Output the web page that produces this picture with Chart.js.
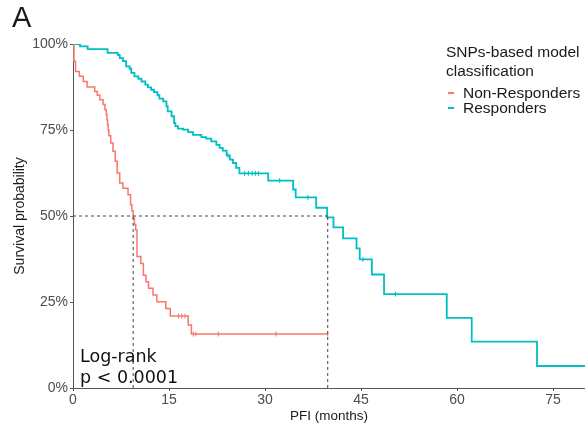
<!DOCTYPE html>
<html>
<head>
<meta charset="utf-8">
<script src="https://cdn.jsdelivr.net/npm/chart.js@4.4.1/dist/chart.umd.min.js"></script>
<style>
  html, body { margin: 0; padding: 0; background: #fff; }
  #wrap { position: relative; width: 585px; height: 428px; overflow: hidden; font-family: "Liberation Sans", Arial, sans-serif; }
  #c { position: absolute; left: 0; top: 0; }
  .txt { position: absolute; white-space: nowrap; color: #1a1a1a; }
  #panel { left: 12px; top: 1px; font-size: 29px; }
  #lgtitle { left: 446px; top: 42px; font-size: 15.5px; line-height: 19px; }
  .lgitem { left: 446px; font-size: 15.5px; line-height: 15px; }
  .dash { display: inline-block; width: 6px; height: 2px; vertical-align: middle; margin: 0 9px 0 2px; position: relative; top: -1px; }
  #logrank { left: 80px; top: 346px; font-family: "DejaVu Sans", sans-serif; font-size: 17.5px; line-height: 21px; color: #111; }
</style>
</head>
<body>
<div id="wrap">
  <canvas id="c" width="590" height="428"></canvas>
  <div class="txt" id="panel">A</div>
  <div class="txt" id="lgtitle">SNPs-based model<br>classification</div>
  <div class="txt lgitem" id="lg1" style="top:85px"><span class="dash" style="background:#F8766D"></span>Non-Responders</div>
  <div class="txt lgitem" id="lg2" style="top:100px"><span class="dash" style="background:#00BFC4"></span>Responders</div>
  <div class="txt" id="logrank">Log-rank<br>p &lt; 0.0001</div>
</div>
<script>
// ---- data (months, survival %) ----
const seriesNames = ["Non-Responders", "Responders"];
const nonRespTime = [0, 0.15, 0.4, 1.0, 1.6, 2.2, 3.4, 3.8, 4.2, 4.7, 5.0, 5.2, 5.3, 5.4, 5.5, 5.6, 5.9, 6.25, 6.6, 6.9, 7.3, 7.8, 8.6, 9.0, 9.2, 9.4, 9.6, 9.8, 10.0, 10.6, 11.0, 11.4, 11.8, 12.5, 13.1, 14.5, 15.2, 18.0, 18.5, 39.8];
const nonRespSurv = [100, 95, 92, 90.6, 89.1, 87.5, 86.2, 85.1, 83.8, 82.4, 80.9, 79.4, 77.9, 76.5, 75.0, 73.3, 71.2, 68.8, 65.9, 62.5, 59.6, 58.1, 56.2, 53.3, 51.5, 49.4, 47.5, 45.9, 38.2, 36.2, 32.8, 30.9, 29.0, 27.0, 25.1, 23.1, 20.9, 18.3, 15.7, 15.7];
const respTime = [0, 1.1, 2.3, 5.4, 7.0, 7.3, 7.8, 8.3, 8.85, 9.1, 9.6, 10.2, 10.7, 11.3, 11.7, 12.2, 12.65, 13.2, 13.5, 14.1, 14.6, 14.8, 15.4, 15.8, 16.0, 16.4, 17.2, 18.0, 18.75, 20.05, 20.8, 21.6, 22.4, 22.9, 23.4, 24.0, 24.5, 25.0, 25.5, 26.0, 30.5, 34.4, 34.8, 38.0, 39.7, 40.7, 42.2, 44.3, 44.8, 46.7, 48.6, 58.4, 62.3, 72.5, 80];
const respSurv = [100, 99.3, 98.5, 97.4, 96.8, 95.9, 95.0, 93.5, 92.8, 91.6, 90.6, 89.9, 89.1, 88.2, 87.4, 86.7, 86.0, 85.1, 84.1, 83.3, 81.9, 80.4, 79.0, 77.0, 76.1, 75.4, 75.1, 74.4, 73.6, 72.9, 72.5, 71.7, 70.7, 69.8, 69.0, 67.6, 66.4, 65.4, 64.0, 62.4, 60.3, 57.7, 55.4, 52.4, 49.6, 46.7, 43.5, 40.6, 37.4, 33.0, 27.3, 20.4, 13.5, 6.4, 6.4];
const nonRespCensor = [16.5, 17.0, 17.5, 18.8, 19.2, 22.7, 31.7, 39.8];
const respCensor = [24.2, 26.8, 27.4, 28.0, 28.5, 29.0, 32.3, 36.7, 45.3, 50.4];
const medianNonResp = 9.4;
const medianResp = 39.8;
const xTicks = [0, 15, 30, 45, 60, 75];
const yTicks = [0, 25, 50, 75, 100];
const xTitle = "PFI (months)";
const yTitle = "Survival probability";

const RED = "#F8766D", CYAN = "#00BFC4";
const toPts = (t, s) => t.map((v, i) => ({x: v, y: s[i]}));
function survAt(times, surv, t) {
  let v = surv[0];
  for (let i = 0; i < times.length; i++) { if (times[i] <= t) v = surv[i]; }
  return v;
}
const censorPts = (c, t, s) => c.map(v => ({x: v, y: survAt(t, s, v)}));

const dashStyle = {type: 'scatter', showLine: true, borderColor: '#444', borderWidth: 1, borderDash: [3, 3], pointRadius: 0, fill: false};

new Chart(document.getElementById('c'), {
  type: 'scatter',
  data: {
    datasets: [
      Object.assign({label: 'median-h', data: [{x: 0, y: 50}, {x: medianResp, y: 50}]}, dashStyle),
      Object.assign({label: 'median-v1', data: [{x: medianNonResp, y: 0}, {x: medianNonResp, y: 50}]}, dashStyle),
      Object.assign({label: 'median-v2', data: [{x: medianResp, y: 0}, {x: medianResp, y: 50}]}, dashStyle),
      {label: seriesNames[0], data: toPts(nonRespTime, nonRespSurv), showLine: true, stepped: 'before', borderColor: RED, borderWidth: 1.5, pointRadius: 0, fill: false},
      {label: seriesNames[1], data: toPts(respTime, respSurv), showLine: true, stepped: 'before', borderColor: CYAN, borderWidth: 1.8, pointRadius: 0, fill: false},
      {label: 'cens1', data: censorPts(nonRespCensor, nonRespTime, nonRespSurv), showLine: false, pointStyle: 'line', rotation: 90, radius: 2.5, borderColor: RED, borderWidth: 1},
      {label: 'cens2', data: censorPts(respCensor, respTime, respSurv), showLine: false, pointStyle: 'line', rotation: 90, radius: 2.5, borderColor: CYAN, borderWidth: 1}
    ]
  },
  options: {
    responsive: false,
    animation: false,
    layout: {padding: {top: 44, right: 0, left: 0, bottom: 0}},
    plugins: {legend: {display: false}, tooltip: {enabled: false}},
    scales: {
      x: {
        type: 'linear', min: 0, max: 80,
        afterBuildTicks: s => { s.ticks = xTicks.map(v => ({value: v})); },
        afterFit: s => { s.height = 40; },
        ticks: {font: {family: 'Liberation Sans, Arial', size: 14}, color: '#4D4D4D', padding: 1, maxRotation: 0},
        grid: {drawOnChartArea: false, drawTicks: true, tickLength: 3, color: '#555'},
        border: {display: true, color: '#555', width: 1},
        title: {display: true, text: xTitle, font: {family: 'Liberation Sans, Arial', size: 13.5}, color: '#1a1a1a', padding: {top: 0, bottom: 4}}
      },
      y: {
        type: 'linear', min: 0, max: 100,
        afterBuildTicks: s => { s.ticks = yTicks.map(v => ({value: v})); },
        afterFit: s => { s.width = 73; },
        ticks: {font: {family: 'Liberation Sans, Arial', size: 14}, color: '#4D4D4D', padding: 2, callback: v => v + '%'},
        grid: {drawOnChartArea: false, drawTicks: true, tickLength: 3, color: '#555'},
        border: {display: true, color: '#555', width: 1},
        title: {display: true, text: yTitle, font: {family: 'Liberation Sans, Arial', size: 14}, color: '#1a1a1a', padding: {top: 12, bottom: 0}}
      }
    }
  }
});
</script>
</body>
</html>
